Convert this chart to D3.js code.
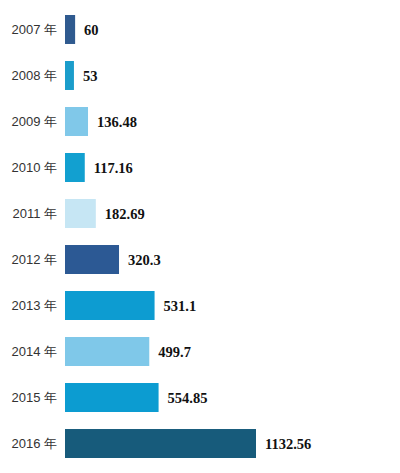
<!DOCTYPE html>
<html>
<head>
<meta charset="utf-8">
<script src="https://cdn.jsdelivr.net/npm/d3@7"></script>
<style>
html,body{margin:0;padding:0;background:#fff;}
</style>
</head>
<body>
<svg id="chart" width="400" height="473"></svg>
<script>
const years = ["2007 年","2008 年","2009 年","2010 年","2011 年","2012 年","2013 年","2014 年","2015 年","2016 年"];
const values = [60, 53, 136.48, 117.16, 182.69, 320.3, 531.1, 499.7, 554.85, 1132.56];
const valueLabels = ["60","53","136.48","117.16","182.69","320.3","531.1","499.7","554.85","1132.56"];
const colors = ["#2f5a8f","#1b9dcb","#80c8e9","#12a0d0","#c6e6f4","#2c5994","#0d9cd1","#7fc8e9","#0c9cd1","#175b7b"];

const svg = d3.select("#chart");
const x = d3.scaleLinear().domain([0, 1132.56]).range([65, 256]);
const y = d3.scaleBand().domain(years).range([15, 458]).paddingInner(0.37).paddingOuter(0);

const data = years.map((yr, i) => ({yr, v: values[i], label: valueLabels[i], c: colors[i]}));

svg.selectAll("rect.bar").data(data).join("rect")
  .attr("class","bar")
  .attr("x", x(0))
  .attr("y", d => y(d.yr))
  .attr("width", d => x(d.v) - x(0))
  .attr("height", y.bandwidth())
  .attr("fill", d => d.c);

svg.selectAll("text.cat").data(data).join("text")
  .attr("class","cat")
  .attr("x", 57)
  .attr("y", d => y(d.yr) + y.bandwidth()/2)
  .attr("dy","0.35em")
  .attr("text-anchor","end")
  .attr("font-family","Liberation Sans, Arial, sans-serif")
  .attr("font-size", 13)
  .attr("fill","#333")
  .text(d => d.yr);

svg.selectAll("text.val").data(data).join("text")
  .attr("class","val")
  .attr("x", d => x(d.v) + 9)
  .attr("y", d => y(d.yr) + y.bandwidth()/2)
  .attr("dy","0.35em")
  .attr("font-family","Liberation Serif, Times New Roman, serif")
  .attr("font-weight","bold")
  .attr("font-size", 14.5)
  .attr("fill","#111")
  .text(d => d.label);
</script>
</body>
</html>
